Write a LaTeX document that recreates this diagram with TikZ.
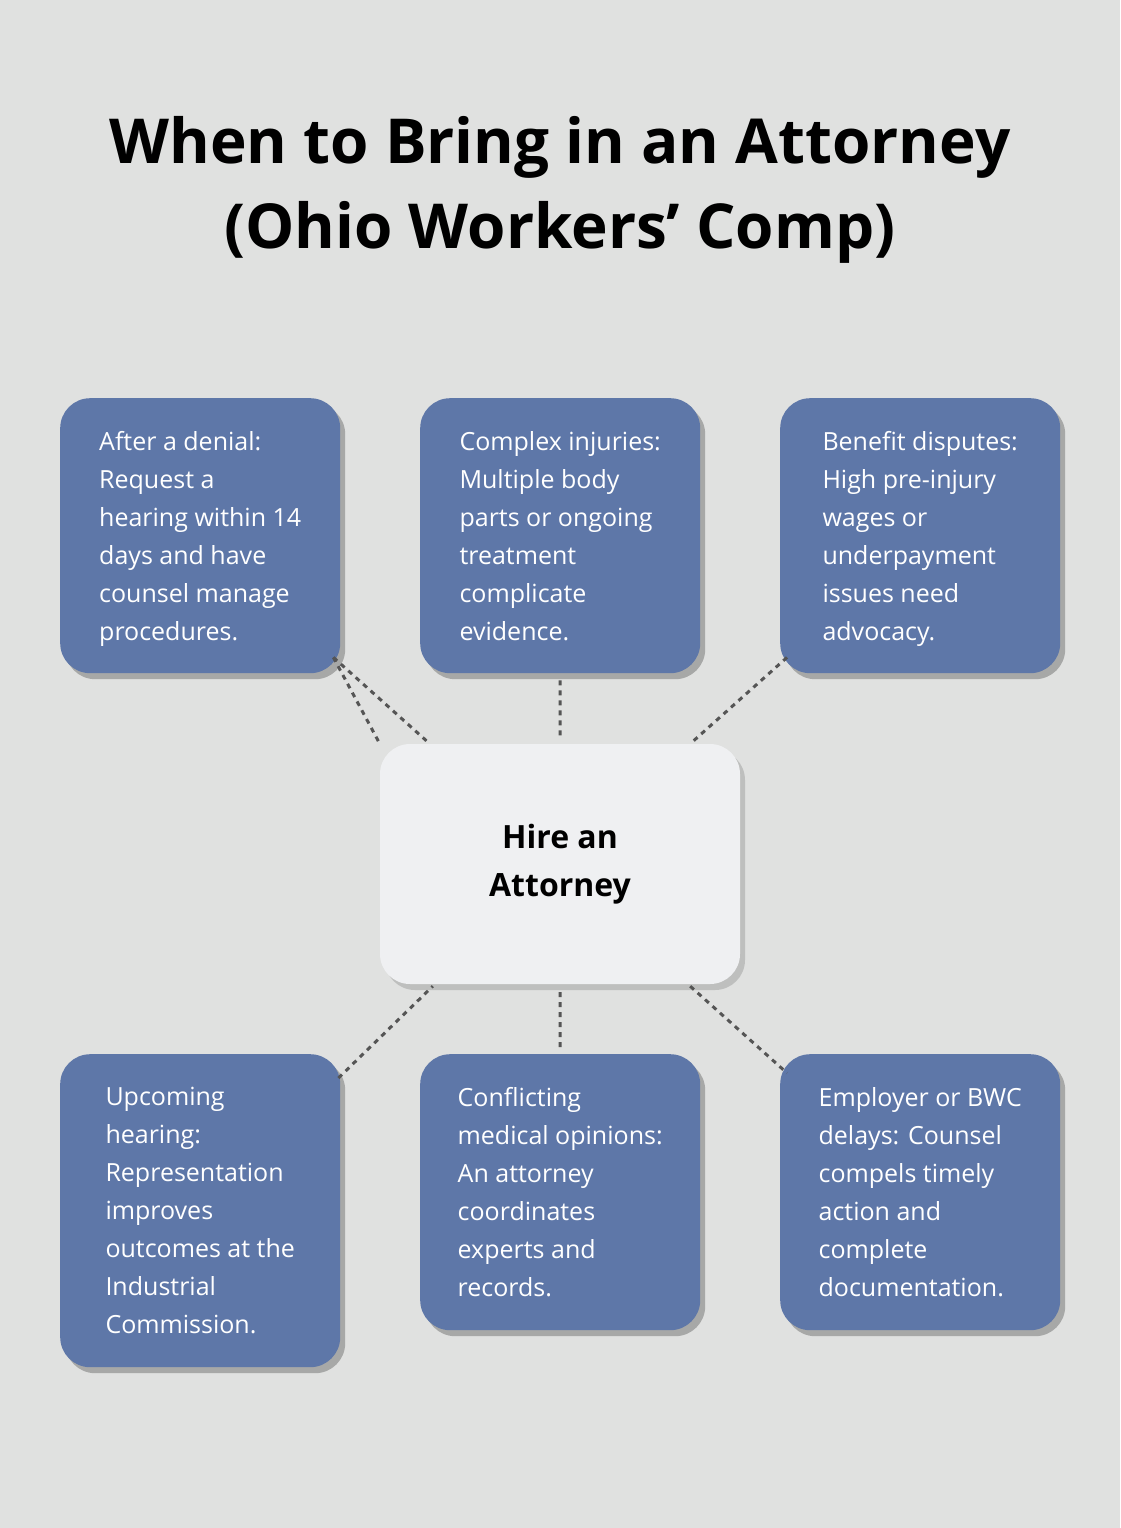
\documentclass[tikz,border=0pt]{standalone}
\usepackage{fontspec}
\setmainfont{Open Sans}
\usetikzlibrary{shadows}
\definecolor{bg}{HTML}{E0E1E0}
\definecolor{boxc}{HTML}{5E77A8}
\definecolor{cen}{HTML}{EFF0F2}
\definecolor{conn}{HTML}{555555}
\begin{document}
\begin{tikzpicture}[x=1pt,y=-1pt,
  card/.style={fill=boxc,rounded corners=30pt,anchor=north west,align=left,text=white,
    minimum width=280pt,inner xsep=24pt,inner ysep=20pt,text depth=0pt,
    font=\fontsize{25}{38}\selectfont,
    drop shadow={shadow xshift=5pt,shadow yshift=-6pt,opacity=0.25,fill=black}},
  conn/.style={draw=conn,line width=3pt,dash pattern=on 5pt off 5pt}]
\fill[bg] (0,0) rectangle (1120,1528);
\node[font=\bfseries\fontsize{62}{85}\selectfont,align=center] (title) at (560,190)
  {When to Bring in an Attorney\\(Ohio Workers’ Comp)};
\node[fill=cen,rounded corners=30pt,minimum width=360pt,minimum height=240pt,align=center,
  font=\bfseries\fontsize{32}{48}\selectfont,
  drop shadow={shadow xshift=5pt,shadow yshift=-6pt,opacity=0.15,fill=black}] (c) at (560,864) {Hire an\\Attorney};
\node[card,minimum height=275pt] (a) at (60,398) {After a denial:\\Request a\\hearing within 14\\days and have\\counsel manage\\procedures.};
\node[card,minimum height=275pt] (b) at (420,398) {Complex injuries:\\Multiple body\\parts or ongoing\\treatment\\complicate\\evidence.};
\node[card,minimum height=275pt] (d) at (780,398) {Benefit disputes:\\High pre-injury\\wages or\\underpayment\\issues need\\advocacy.};
\node[card,minimum height=313pt] (e) at (60,1054) {Upcoming\\hearing:\\Representation\\improves\\outcomes at the\\Industrial\\Commission.};
\node[card,minimum height=276pt] (f) at (420,1054) {Conflicting\\medical opinions:\\An attorney\\coordinates\\experts and\\records.};
\node[card,minimum height=276pt] (g) at (780,1054) {Employer or BWC\\delays: Counsel\\compels timely\\action and\\complete\\documentation.};
\draw[conn] (a.south east) ++(-7,-16) coordinate (a1);
\draw[conn] (a1) -- (c.north west) ++(50,0) coordinate (c1);
\draw[conn] (a1) -- (c1);
\draw[conn,shorten <=7pt,shorten >=4pt] (b) -- (c);
\draw[conn] (d.south west) ++(7,-16) coordinate (d1);
\draw[conn] (c.north east) ++(-50,0) coordinate (c2);
\draw[conn] (d1) -- (c2);
\draw[conn] (e.north east) ++(-2,24) coordinate (e1);
\draw[conn] (c.south west) ++(53,2) coordinate (c3);
\draw[conn] (e1) -- (c3);
\draw[conn,shorten <=8pt,shorten >=4pt] (c) -- (f);
\draw[conn] (g.north west) ++(7,19) coordinate (g1);
\draw[conn] (c.south east) ++(-50,2) coordinate (c4);
\draw[conn] (c4) -- (g1);
\end{tikzpicture}
\end{document}
